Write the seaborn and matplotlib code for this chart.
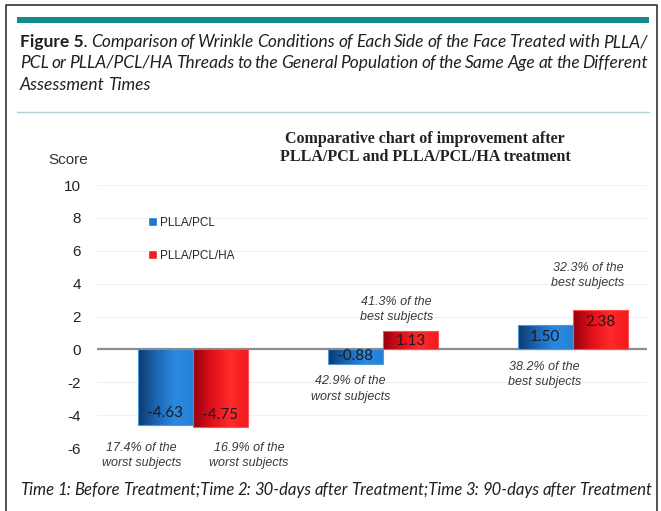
import numpy as np
import pandas as pd
import matplotlib
matplotlib.use('Agg')
import matplotlib.pyplot as plt
import seaborn as sns
from matplotlib.patches import Patch, Rectangle
from matplotlib.lines import Line2D
from matplotlib.colors import LinearSegmentedColormap

# data
times = ['Time 1', 'Time 2', 'Time 3']
groups = ['PLLA/PCL', 'PLLA/PCL/HA']
pcl_scores = [-4.63, -0.88, 1.50]
ha_scores = [-4.75, 1.13, 2.38]
y_ticks = [-6, -4, -2, 0, 2, 4, 6, 8, 10]

notes = ['17.4% of the\nworst subjects', '16.9% of the\nworst subjects',
         '42.9% of the\nworst subjects', '41.3% of the\nbest subjects',
         '38.2% of the\nbest subjects', '32.3% of the\nbest subjects']
note_x = [-0.27, 0.295, 0.83, 1.07, 1.85, 2.08]
note_y = [-6.45, -6.45, -2.4, 2.43, -1.52, 4.5]

chart_title = 'Comparative chart of improvement after\nPLLA/PCL and PLLA/PCL/HA treatment'
caption_1 = 'Comparison of Wrinkle Conditions of Each Side of the Face Treated with PLLA/'
caption_2 = 'PCL or PLLA/PCL/HA Threads to the General Population of the Same Age at the Different'
caption_3 = 'Assessment Times'
footer = 'Time 1: Before Treatment;Time 2: 30-days after Treatment;Time 3: 90-days after Treatment'

W, H = 661, 511
blue, red = '#1f73c8', '#ee1c24'
blue_grad = ['#0e3a6e', '#1d66b4', '#2b8ae0', '#2382d8']
red_grad = ['#96000f', '#e0101a', '#ff2a2a', '#f01a20']

df = pd.DataFrame({
    'time': times * 2,
    'group': [groups[0]] * 3 + [groups[1]] * 3,
    'score': pcl_scores + ha_scores,
})

sns.set_style('white')
plt.rcParams['font.family'] = ['Liberation Sans', 'DejaVu Sans']
plt.rcParams['axes.unicode_minus'] = False

fig = plt.figure(figsize=(W / 100, H / 100), dpi=100)
fig.patch.set_facecolor('white')


def fx(px):
    return px / W


def fy(py):
    return 1 - py / H


ax = fig.add_axes([fx(97), fy(448), 550 / W, 263 / H])
sns.barplot(data=df, x='time', y='score', hue='group', order=times, hue_order=groups,
            palette=[blue, red], width=0.58, saturation=1, legend=False, ax=ax)

# gradient fill for each bar, clipped to the bar shape
for cont, grad_cols, edge in zip(ax.containers, [blue_grad, red_grad], ['#4a9ae6', '#ff5050']):
    cmap = LinearSegmentedColormap.from_list('g', grad_cols)
    for bar in cont:
        x0, y0 = bar.get_x(), bar.get_y()
        w, h = bar.get_width(), bar.get_height()
        im = ax.imshow(np.linspace(0, 1, 64).reshape(1, -1), cmap=cmap, aspect='auto',
                       extent=(x0, x0 + w, min(y0, y0 + h), max(y0, y0 + h)),
                       interpolation='bilinear', zorder=2.5)
        im.set_clip_path(bar)
        bar.set_facecolor('none')
        bar.set_edgecolor(edge)
        bar.set_linewidth(0.8)
        bar.set_zorder(3)

# value labels inside the bar ends
for cont in ax.containers:
    for bar in cont:
        v = bar.get_height()
        xc = bar.get_x() + bar.get_width() / 2
        off = min(12, abs(v) * 16.44 * 0.55) * 0.72
        ax.annotate(f'{v:.2f}', xy=(xc, v), xytext=(0, -np.sign(v) * off),
                    textcoords='offset points', ha='center', va='center',
                    fontsize=11, family=['Lato', 'DejaVu Sans'], color='#1a1a22', zorder=6)

for txt, x, y in zip(notes, note_x, note_y):
    ax.text(x, y, txt, ha='center', va='center', fontsize=9, style='italic',
            color='#3a3a3a', linespacing=1.4, clip_on=False)

ax.axhline(0, color='#8c8c8c', lw=1.6, zorder=2)
ax.set_xlim(-0.505, 2.39)
ax.set_ylim(-6, 10)
ax.set_yticks(y_ticks)
ax.set_xticks([])
ax.set_xlabel('')
ax.set_ylabel('')
ax.yaxis.grid(True, color='#f0f0f0', lw=0.8)
ax.set_axisbelow(True)
ax.tick_params(axis='y', length=0, pad=11.5, labelsize=11, labelcolor='#222222')
for s in ax.spines.values():
    s.set_visible(False)
ax.patch.set_alpha(0)

fig.legend([Patch(facecolor=blue), Patch(facecolor=red)], groups, loc='upper left',
           bbox_to_anchor=(fx(142), fy(211)), frameon=False, borderpad=0,
           handlelength=0.8, handleheight=0.8, handletextpad=0.2,
           labelspacing=1.75, prop={'size': 8.5})

fig.text(fx(425), fy(148), chart_title, ha='center', va='center', fontsize=11.5,
         family=['Liberation Serif', 'DejaVu Serif'], fontweight='bold',
         color='#222222', linespacing=1.2)
fig.text(fx(68), fy(160), 'Score', ha='center', va='center', fontsize=11, color='#333333')

# frame, rules and caption of the journal figure
fig.add_artist(Line2D([fx(5.5), fx(5.5), fx(656.5), fx(656.5)],
                      [0, fy(5.5), fy(5.5), 0], color='#333333', lw=1.2))
fig.add_artist(Rectangle((fx(17), fy(23)), fx(649) - fx(17), 6 / H, color='#138b8c', lw=0))
fig.add_artist(Line2D([fx(17), fx(649)], [fy(112), fy(112)], color='#a9d1d4', lw=1))

renderer = fig.canvas.get_renderer()


def draw_line(tokens, x0, y, x1=None, size=12.5):
    objs = []
    for text, bold, gap in tokens:
        t = fig.text(0, 0, text, fontsize=size, family=['Lato', 'DejaVu Sans'],
                     fontweight='bold' if bold else 'normal',
                     fontstyle='normal' if bold else 'italic',
                     va='baseline', ha='left', color='#231f20')
        objs.append((t, t.get_window_extent(renderer).width, gap))
    n_gaps = sum(g for _, _, g in objs)
    total = sum(w for _, w, _ in objs)
    sp = size * 100 / 72 * 0.18
    if x1 is not None and n_gaps:
        sp = (x1 - x0 - total) / n_gaps
    x = x0
    for t, w, g in objs:
        if g:
            x += sp
        t.set_position((fx(x), fy(y)))
        x += w


def words(s, first_gap=True):
    return [(w, False, i > 0 or first_gap) for i, w in enumerate(s.split(' '))]


draw_line([('Figure 5', True, False), ('.', False, False)] + words(caption_1), 20, 47, 648)
draw_line(words(caption_2, False), 20, 68, 648)
draw_line(words(caption_3, False), 20, 90)
draw_line(words(footer, False), 20, 495, 652, size=12)

fig.savefig('out.png', dpi=100, facecolor='white')
